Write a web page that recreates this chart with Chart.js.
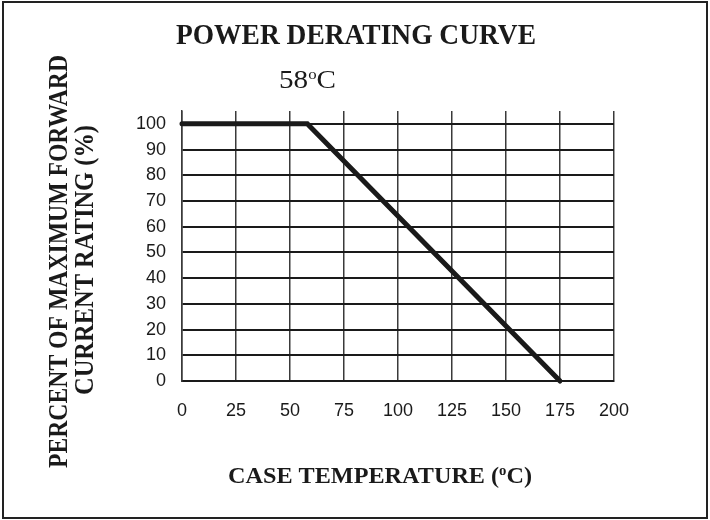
<!DOCTYPE html>
<html>
<head>
<meta charset="utf-8">
<script src="https://cdn.jsdelivr.net/npm/chart.js@4.4.1/dist/chart.umd.min.js"></script>
<style>
  html, body { margin: 0; padding: 0; background: #fff; }
  canvas { display: block; }
</style>
</head>
<body>
<canvas id="deratingChart" width="710" height="520"></canvas>
<script>
// curve break points (case temperature, % of max current)
const temps = [0, 58, 175];
const ratings = [100, 100, 0];

const xTicks = [0, 25, 50, 75, 100, 125, 150, 175, 200];
const yTicks = [0, 10, 20, 30, 40, 50, 60, 70, 80, 90, 100];

const SERIF = "'Liberation Serif', 'Times New Roman', serif";
const SANS = "'Liberation Sans', Arial, sans-serif";

// draws a run of text pieces squeezed to a given width
function drawFitted(ctx, parts, x, y, width, rotated) {
  ctx.save();
  let total = 0;
  parts.forEach((p) => {
    ctx.font = p.font;
    p.w = ctx.measureText(p.text).width;
    total += p.w;
  });
  ctx.translate(x, y);
  if (rotated) ctx.rotate(-Math.PI / 2);
  ctx.scale(width / total, 1);
  ctx.fillStyle = "#1a1a1a";
  ctx.textBaseline = "alphabetic";
  ctx.textAlign = "left";
  let cx = 0;
  parts.forEach((p) => {
    ctx.font = p.font;
    ctx.fillText(p.text, cx, p.dy || 0);
    cx += p.w;
  });
  ctx.restore();
}

const labelsPlugin = {
  id: "labels",
  afterDraw(chart) {
    const ctx = chart.ctx;

    ctx.save();
    ctx.strokeStyle = "#222";
    ctx.lineWidth = 2;
    ctx.strokeRect(3, 2, 704, 516);
    ctx.restore();

    drawFitted(ctx, [{ text: "POWER DERATING CURVE", font: "bold 30px " + SERIF }], 176, 44, 360);

    drawFitted(ctx, [
      { text: "58", font: "26px " + SERIF },
      { text: "o", font: "15px " + SERIF, dy: -9 },
      { text: "C", font: "26px " + SERIF }
    ], 279, 88, 57);

    drawFitted(ctx, [
      { text: "CASE TEMPERATURE (", font: "bold 23px " + SERIF },
      { text: "o", font: "bold 14px " + SERIF, dy: -8 },
      { text: "C)", font: "bold 23px " + SERIF }
    ], 228, 483, 304);

    drawFitted(ctx, [{ text: "PERCENT OF MAXIMUM FORWARD", font: "bold 28px " + SERIF }], 67, 468, 413, true);
    drawFitted(ctx, [{ text: "CURRENT RATING (%)", font: "bold 28px " + SERIF }], 93, 395, 270, true);
  }
};

const ctx = document.getElementById("deratingChart");

new Chart(ctx, {
  type: "line",
  data: {
    datasets: [
      {
        label: "Derating",
        data: temps.map((t, i) => ({ x: t, y: ratings[i] })),
        borderColor: "#1a1a1a",
        borderWidth: 5,
        borderCapStyle: "round",
        borderJoinStyle: "miter",
        pointRadius: 0,
        fill: false,
        tension: 0,
        clip: false
      }
    ]
  },
  options: {
    responsive: false,
    animation: false,
    events: [],
    layout: {
      padding: { left: 122, right: 96, top: 111, bottom: 79 }
    },
    plugins: {
      legend: { display: false },
      tooltip: { enabled: false }
    },
    scales: {
      x: {
        type: "linear",
        min: 0,
        max: 200,
        afterBuildTicks: (scale) => {
          scale.ticks = xTicks.map((v) => ({ value: v }));
        },
        afterFit: (scale) => {
          scale.height = 60;
        },
        grid: { color: "#3a3a3a", lineWidth: 1.5, drawTicks: false },
        border: { color: "#1a1a1a", width: 2 },
        ticks: {
          padding: 19,
          color: "#1a1a1a",
          font: { family: SANS, size: 18 },
          maxRotation: 0,
          autoSkip: false
        }
      },
      y: {
        min: 0,
        max: 105,
        afterBuildTicks: (scale) => {
          scale.ticks = yTicks.map((v) => ({ value: v }));
        },
        afterFit: (scale) => {
          scale.width = 60;
        },
        grid: { color: "#1a1a1a", lineWidth: 2, drawTicks: false },
        border: { color: "#3a3a3a", width: 1.5 },
        ticks: {
          padding: 16,
          color: "#1a1a1a",
          font: { family: SANS, size: 18 },
          autoSkip: false
        }
      }
    }
  },
  plugins: [labelsPlugin]
});
</script>
</body>
</html>
